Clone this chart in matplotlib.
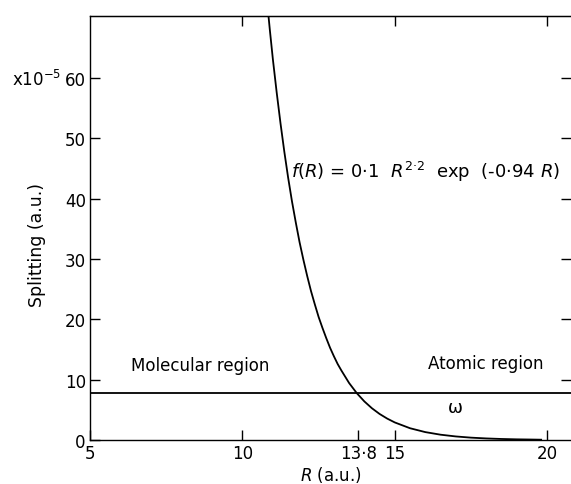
import matplotlib
matplotlib.use("Agg")
import matplotlib.pyplot as plt

# curve (R in a.u., splitting in units of 1e-5 a.u.)
R = [10.8, 10.9, 11.0, 11.125, 11.25, 11.375, 11.5, 11.625, 11.75, 11.875,
     12.0, 12.125, 12.25, 12.375, 12.5, 12.625, 12.75, 12.875, 13.0, 13.125,
     13.25, 13.5, 13.75, 14.0, 14.25, 14.5, 14.75, 15.0, 15.5, 16.0,
     16.5, 17.0, 17.5, 18.0, 18.5, 19.0, 19.5, 19.8]
split = [73.2, 68.0, 63.1, 57.6, 52.5, 47.8, 43.5, 39.6, 36.1, 32.8,
         29.9, 27.2, 24.7, 22.5, 20.4, 18.6, 16.9, 15.3, 13.9, 12.6,
         11.5, 9.45, 7.78, 6.4, 5.26, 4.32, 3.55, 2.91, 1.95, 1.31,
         0.88, 0.59, 0.39, 0.26, 0.17, 0.11, 0.075, 0.05]

# horizontal line (omega)
omega = 7.8

xticks = [5, 10, 13.8, 15, 20]
xticklabels = ["5", "10", "13·8", "15", "20"]
yticks = [0, 10, 20, 30, 40, 50, 60]

fig = plt.figure(figsize=(5.71, 4.85), dpi=100)
ax = fig.add_axes([90/571, 44/485, 1 - 90/571, (441-17)/485])

ax.plot(R, split, color="black", lw=1.3)
ax.axhline(omega, color="black", lw=1.3)

ax.set_xlim(5, 20.78)
ax.set_ylim(0, 70.3)

ax.set_xticks(xticks)
ax.set_xticklabels(xticklabels)
ax.set_yticks(yticks)
ax.tick_params(direction="in", length=7, width=1, labelsize=12, pad=3)
ax.spines["right"].set_visible(False)
for s in ["left", "bottom", "top"]:
    ax.spines[s].set_linewidth(1)

# ticks on top and right edges
top = ax.secondary_xaxis("top")
top.set_xticks([10, 15, 20])
top.set_xticklabels([])
top.tick_params(direction="in", length=7, width=1)
right = ax.secondary_yaxis("right")
right.set_yticks(yticks[1:])
right.set_yticklabels([])
right.tick_params(direction="in", length=7, width=1)
right.spines["right"].set_visible(False)

ax.set_xlabel(r"$\it{R}$ (a.u.)", fontsize=12, labelpad=1)
ax.set_ylabel("Splitting (a.u.)", fontsize=12.5)
ax.yaxis.set_label_coords(-0.092, 0.462)
fig.text(12/571, 1 - 80/485, r"x10$^{-5}$", fontsize=12, va="center", ha="left")

ax.text(11.6, 44.6, r"$\it{f}$($\it{R}$) = 0·1  $\it{R}^{2·2}$  exp  (-0·94 $\it{R}$)",
        fontsize=13, va="center", ha="left")
ax.text(6.35, 12.4, "Molecular region", fontsize=12, va="center", ha="left")
ax.text(16.1, 12.7, "Atomic region", fontsize=12, va="center", ha="left")
ax.text(17.0, 5.5, "ω", fontsize=13, va="center", ha="center")

fig.savefig("out.png", dpi=100)
